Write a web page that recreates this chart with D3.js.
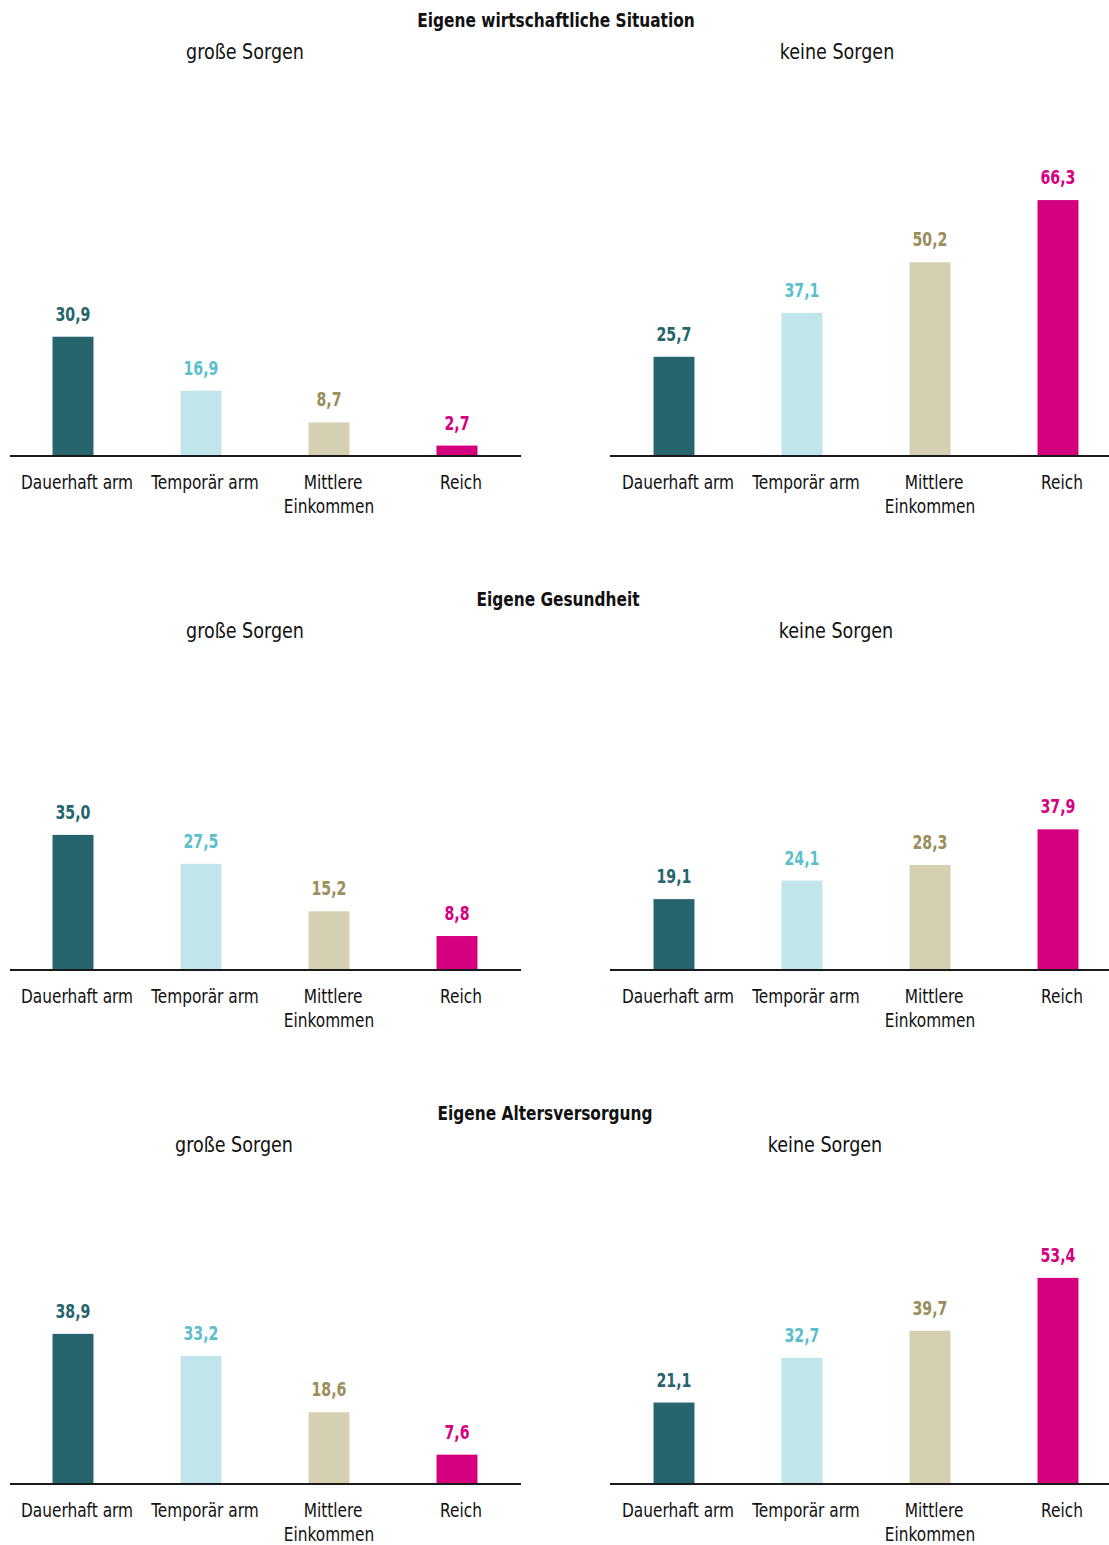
<!DOCTYPE html>
<html>
<head>
<meta charset="utf-8">
<script src="https://cdn.jsdelivr.net/npm/d3@7"></script>
<style>
  body { margin: 0; background: #fff; }
  svg text { font-family: "Liberation Sans Narrow", "DejaVu Sans Condensed", "DejaVu Sans", sans-serif; font-stretch: condensed; }
</style>
</head>
<body>
<svg id="vis" width="1109" height="1545"></svg>
<script>
// data
let categories = ["Dauerhaft arm", "Temporär arm", "Mittlere\nEinkommen", "Reich"];
let sectionTitles = ["Eigene wirtschaftliche Situation", "Eigene Gesundheit", "Eigene Altersversorgung"];
let panelTitles = ["große Sorgen", "keine Sorgen"];

let wirtschaftGross = [30.9, 16.9, 8.7, 2.7];
let wirtschaftKeine = [25.7, 37.1, 50.2, 66.3];
let gesundheitGross = [35.0, 27.5, 15.2, 8.8];
let gesundheitKeine = [19.1, 24.1, 28.3, 37.9];
let alterGross = [38.9, 33.2, 18.6, 7.6];
let alterKeine = [21.1, 32.7, 39.7, 53.4];

let barColors = ["#26646e", "#c0e5ea", "#d6d0b2", "#d5007f"];
let labelColors = ["#26646e", "#5bbfcd", "#9b8e5b", "#d5007f"];

// horizontal squeeze so the condensed font gets closer to the narrow original
let sqTitle = 0.9, sqSub = 0.93, sqVal = 0.83, sqCat = 0.9;

function main() {
    let svg = d3.select("#vis");

    // layout per section
    let sections = [
        { title: sectionTitles[0], titleX: 556, titleY: 27, subY: 59, subX: [245, 837], base: 456,
          values: [wirtschaftGross, wirtschaftKeine], yMax: [100, 100] },
        { title: sectionTitles[1], titleX: 558, titleY: 606, subY: 638, subX: [245, 836], base: 970,
          values: [gesundheitGross, gesundheitKeine], yMax: [100, 104] },
        { title: sectionTitles[2], titleX: 545, titleY: 1120, subY: 1152, subX: [234, 825], base: 1484,
          values: [alterGross, alterKeine], yMax: [100, 100] }
    ];
    let bandRanges = [[9, 521], [610, 1122]];
    let lineRanges = [[10, 521], [610, 1109]];
    let plotH = 386;

    sections.forEach((s) => {
        svg.append("text")
            .attr("transform", `scale(${sqTitle},1)`)
            .attr("x", s.titleX / sqTitle)
            .attr("y", s.titleY)
            .attr("text-anchor", "middle")
            .attr("font-weight", "bold")
            .attr("font-size", 19)
            .attr("fill", "#111")
            .text(s.title);

        [0, 1].forEach((p) => {
            svg.append("text")
                .attr("transform", `scale(${sqSub},1)`)
                .attr("x", s.subX[p] / sqSub)
                .attr("y", s.subY)
                .attr("text-anchor", "middle")
                .attr("font-size", 21)
                .attr("fill", "#111")
                .text(panelTitles[p]);

            let x = d3.scaleBand()
                .domain(categories)
                .range(bandRanges[p])
                .paddingInner(0.68)
                .paddingOuter(0.34);
            let y = d3.scaleLinear()
                .domain([0, s.yMax[p]])
                .range([s.base, s.base - plotH]);

            let data = s.values[p].map((v, i) => ({ cat: categories[i], v: v, i: i }));
            let g = svg.append("g");

            g.selectAll(".bar")
                .data(data)
                .enter().append("rect")
                    .attr("class", "bar")
                    .attr("x", (d) => x(d.cat))
                    .attr("y", (d) => y(d.v))
                    .attr("width", x.bandwidth())
                    .attr("height", (d) => s.base - y(d.v))
                    .attr("fill", (d) => barColors[d.i]);

            g.selectAll(".val")
                .data(data)
                .enter().append("text")
                    .attr("class", "val")
                    .attr("transform", `scale(${sqVal},1)`)
                    .attr("x", (d) => (x(d.cat) + x.bandwidth() / 2) / sqVal)
                    .attr("y", (d) => y(d.v) - 16)
                    .attr("text-anchor", "middle")
                    .attr("font-weight", "bold")
                    .attr("font-size", 19)
                    .attr("fill", (d) => labelColors[d.i])
                    .text((d) => d3.format(".1f")(d.v).replace(".", ","));

            // x axis, labels only; baseline drawn separately
            let ax = g.append("g")
                .attr("transform", `translate(0, ${s.base})`)
                .call(d3.axisBottom(x).tickSize(0).tickPadding(0));
            ax.select(".domain").remove();
            ax.selectAll(".tick text").each(function(d) {
                let t = d3.select(this);
                let lines = d.split("\n");
                t.text(null)
                    .attr("transform", `scale(${sqCat},1)`)
                    .attr("y", 0)
                    .attr("dy", null)
                    .attr("font-size", 19)
                    .attr("fill", "#111");
                lines.forEach((ln, k) => {
                    t.append("tspan")
                        .attr("x", (k == 0 ? 4 : 0) / sqCat)
                        .attr("y", 33 + k * 24)
                        .text(ln);
                });
            });

            g.append("line")
                .attr("x1", lineRanges[p][0])
                .attr("x2", lineRanges[p][1])
                .attr("y1", s.base)
                .attr("y2", s.base)
                .attr("stroke", "#1a1a1a")
                .attr("stroke-width", 2);
        });
    });
}

document.addEventListener('DOMContentLoaded', () => {
    main();
})
</script>
</body>
</html>
